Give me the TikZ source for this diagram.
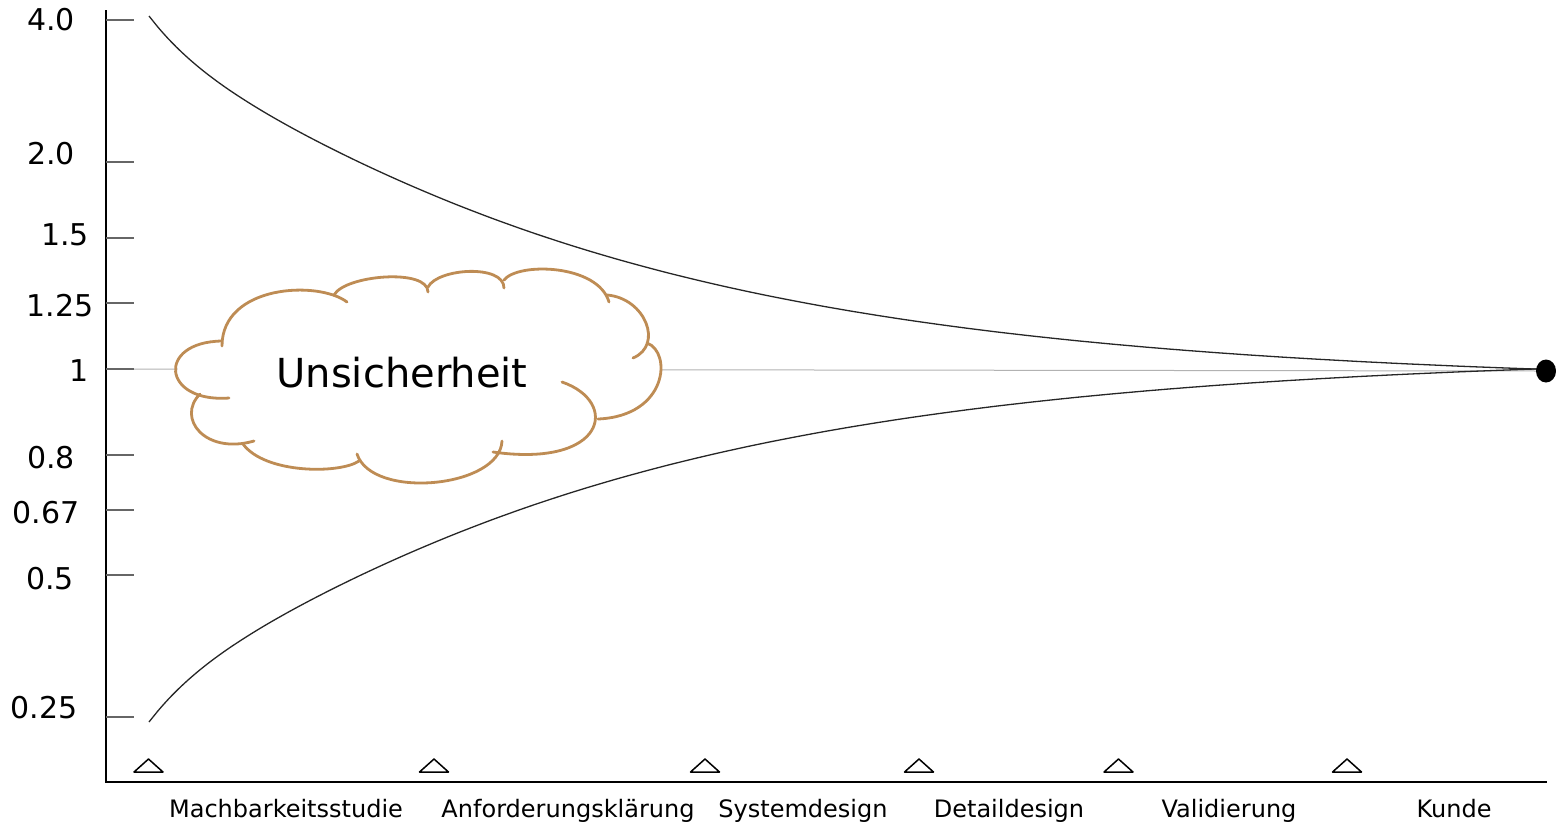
\documentclass[tikz,border=0pt]{standalone}
\usepackage{fontspec}
\setmainfont{DejaVu Sans}
\definecolor{wolkenbraun}{RGB}{190,140,84}

\begin{document}
\begin{tikzpicture}[x=0.5pt, y=-0.5pt,
  declare function={abw(\t)=368.1*exp(-0.0023*\t) - 15.1 - 0.466*\t*exp(-\t/70);}]
\tikzset{achse/.style={line width=1.25pt, black},
  teilstrich/.style={line width=0.8pt, black!60},
  wert/.style={font=\fontsize{15}{18}\selectfont},
  phase/.style={font=\fontsize{12}{14}\selectfont, anchor=base},
  meilenstein/.style={draw, line width=0.75pt, fill=white, line join=round},
  kegel/.style={line width=0.65pt, black!85, domain=149:1537, samples=140, smooth},
  wolke/.style={draw=wolkenbraun, line width=1.4pt, line cap=round}}
\useasboundingbox (0,0) rectangle (1556,827);
% Achsen
\coordinate (O) at (106,782);
\coordinate (Yende) at (106,10);
\coordinate (Xende) at (1547,782);
\coordinate (eins) at (106,369);
\coordinate (ende) at (1546,371);
\draw[black!30, line width=0.5pt] (eins) -- (ende);
\draw[achse] (Yende) -- (O) -- (Xende);
% Teilstriche
\foreach \y/\ly/\lx/\w [count=\i] in {20/20/51/4.0, 162/154/51/2.0, 238/235/65/1.5,
  303/306/60/1.25, 369/371/79/1, 455/458/51/0.8, 510/513/46/0.67,
  575/579/50/0.5, 717/708/44/0.25}
{
  \draw[teilstrich] (106,\y) -- (134,\y);
  \node[wert] (wert\i) at (\lx,\ly) {\w};
}
% Kegel der Unsicherheit
\draw[kegel] plot (\x, {369 - abw(\x-149)});
\draw[kegel] plot (\x, {369 + abw(\x-149)});
\fill (ende) ellipse (10 and 11.5);
% Wolke
\fill[white] (176,375) -- (182,388) -- (187,412) -- (196,432) -- (229,444) -- (270,462)
  -- (310,470) -- (350,466) -- (377,472) -- (426,484) -- (475,476) -- (493,462)
  -- (542,456) -- (582,444) -- (598,419) -- (649,402) -- (662,376) -- (660,360)
  -- (651,330) -- (636,307) -- (609,302) -- (591,277) -- (560,269) -- (529,270)
  -- (504,277) -- (480,269) -- (457,272) -- (428,287) -- (395,275) -- (368,280)
  -- (334,295) -- (288,288) -- (247,297) -- (225,317) -- (220,342) -- (197,347)
  -- (180,360) -- cycle;
\draw[wolke] (222,346) .. controls (222,285) and (318,280) .. (347,302);
\draw[wolke] (334,295) .. controls (345,275) and (428,268) .. (428,292);
\draw[wolke] (428,287) .. controls (438,268) and (504,264) .. (504,288);
\draw[wolke] (504,280) .. controls (518,262) and (598,264) .. (609,302);
\draw[wolke] (607,295) .. controls (645,298) and (664,345) .. (633,358);
\draw[wolke] (647,343) .. controls (672,352) and (668,416) .. (598,419);
\draw[wolke] (562,382) .. controls (620,402) and (606,468) .. (493,452);
\draw[wolke] (502,441) .. controls (500,488) and (372,500) .. (357,454);
\draw[wolke] (359,461) .. controls (340,474) and (265,474) .. (243,444);
\draw[wolke] (254,441) .. controls (205,455) and (176,418) .. (200,394);
\draw[wolke] (229,398) .. controls (162,403) and (156,342) .. (222,341);
\node[font=\fontsize{20}{24}\selectfont] (unsicherheit) at (402,373) {Unsicherheit};
% Meilensteine
\foreach \x in {148.5, 434, 705, 919, 1118.5, 1347}
  \draw[meilenstein] (\x,759) -- (\x+14.5,772) -- (\x-14.5,772) -- cycle;
% Phasen
\foreach \lx/\name [count=\i] in {286/Machbarkeitsstudie, 568/Anforderungsklärung,
  803/Systemdesign, 1009/Detaildesign, 1229/Validierung, 1454/Kunde}
  \node[phase] (phase\i) at (\lx,817) {\name};
\end{tikzpicture}
\end{document}
